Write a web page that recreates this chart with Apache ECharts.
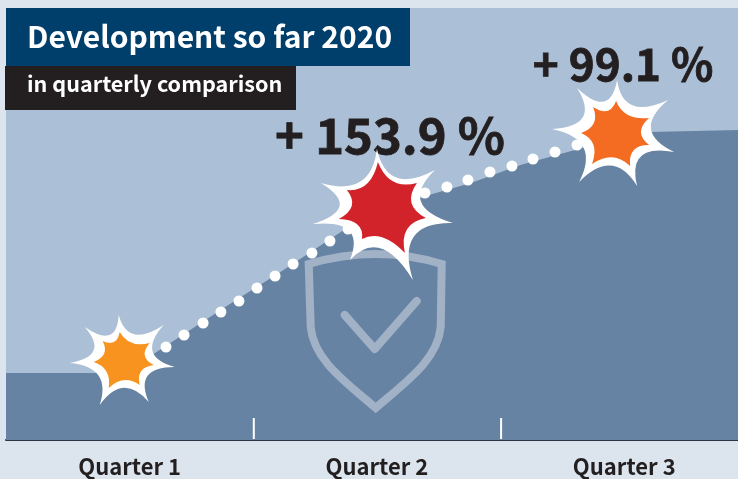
<!DOCTYPE html>
<html>
<head>
<meta charset="utf-8">
<style>html,body{margin:0;padding:0;background:#dce4ee}#chart{width:738px;height:479px}</style>
<script src="https://cdn.jsdelivr.net/npm/echarts@6/dist/echarts.min.js"></script>
</head>
<body>
<div id="chart"></div>
<script>
// x is in quarters since the start of the year, y is an unlabelled height index
const quarterLabels = ['Quarter 1', 'Quarter 2', 'Quarter 3'];
const quarterTicks = [1, 2];

const areaX = [0, 0.48, 0.59, 0.93, 1.11, 1.36, 1.51, 1.71, 1.88, 2.08, 2.33, 2.46, 2.6, 2.96];
const areaY = [67, 67, 85, 140, 168, 209, 227, 245, 257, 275, 292, 300, 308, 310];

const dotX = [0.647, 0.72, 0.797, 0.869, 0.942, 1.015, 1.088, 1.161, 1.237, 1.31, 1.383, 1.694, 1.783, 1.868, 1.957, 2.046, 2.131, 2.22, 2.309];
const dotY = [93, 105, 117, 128, 139, 152, 164, 176, 187, 199, 211, 247, 253, 260, 268, 274, 281, 288, 295];

const burstX = [0.472, 1.512, 2.463];
const burstY = [80, 230, 307];

const gainLabels = ['+ 153.9 %', '+ 99.1 %'];
const gainX = [1.553, 2.495];
const gainY = [305, 376];

const titleText = 'Development so far 2020';
const subtitleText = 'in quarterly comparison';

const FONT = '"Noto Sans CJK SC", "Noto Sans", sans-serif';
const INK = '#231f20';
const gainFontSize = [49, 44];

// burst outlines, tips only, the concave edges are worked out in burstPath
const burstFill = ['#f7931e', '#d2232a', '#f36c21'];
const burstOuter = [
  [[-4, -45], [41, -35], [52, 7], [26, 42], [-23, 45], [-53, 3], [-38, -33]],
  [[-3, -61], [55, -40], [73, 13], [33, 70], [-30, 50], [-67, 14], [-59, -27]],
  [[2, -53], [53, -33], [59, 19], [22, 53], [-36, 49], [-63, -4], [-38, -45]]
];
const burstInner = [
  [[-3, -28], [27, -17], [31, 5], [17, 25], [-14, 28], [-29, 2], [-20, -19]],
  [[-2, -48], [37, -27], [46, 8], [25, 43], [-18, 29], [-41, 9], [-33, -20]],
  [[1, -32], [34, -15], [34, 12], [15, 33], [-23, 31], [-34, 0], [-22, -26]]
];

function burstPath(tips, k) {
  let d = 'M' + tips[0][0] + ',' + tips[0][1];
  for (let i = 0; i < tips.length; i++) {
    const a = tips[i], b = tips[(i + 1) % tips.length];
    const mx = (a[0] + b[0]) / 2, my = (a[1] + b[1]) / 2;
    // control point so that the curve passes through the valley k*mid
    const cx = 2 * k * mx - mx, cy = 2 * k * my - my;
    d += 'Q' + cx + ',' + cy + ' ' + b[0] + ',' + b[1];
  }
  return d + 'Z';
}

const chart = echarts.init(document.getElementById('chart'), null, { renderer: 'canvas' });

const option = {
  animation: false,
  backgroundColor: '#dce4ee',
  grid: { show: true, left: 6, right: 0, top: 8, bottom: 39, backgroundColor: '#abc0d6', borderWidth: 0 },
  xAxis: {
    type: 'value', min: 0, max: 2.96, interval: 0.5,
    splitLine: { show: false },
    axisTick: { show: false },
    axisLine: { show: true, onZero: false, lineStyle: { color: '#2c3544', width: 2 } },
    axisLabel: {
      show: true, showMinLabel: false, showMaxLabel: false, margin: 16,
      color: INK, fontFamily: FONT, fontWeight: 'bold', fontSize: 22, hideOverlap: false,
      formatter: function (v) {
        return v % 1 === 0.5 ? quarterLabels[Math.floor(v)] : '';
      }
    }
  },
  yAxis: { type: 'value', min: 0, max: 432, show: false },
  series: [
    {
      type: 'line', z: 2, symbol: 'none', silent: true,
      data: areaX.map((x, i) => [x, areaY[i]]),
      lineStyle: { width: 0 },
      areaStyle: { color: '#6783a3', opacity: 1 }
    },
    {
      // quarter separators
      type: 'custom', z: 3, silent: true,
      data: quarterTicks.map(x => [x, 0]),
      renderItem: function (params, api) {
        const p = api.coord([api.value(0), 0]);
        return { type: 'line', shape: { x1: p[0] + 0.5, y1: p[1] - 1, x2: p[0] + 0.5, y2: p[1] - 22 }, style: { stroke: '#fff', lineWidth: 2 } };
      }
    },
    {
      // shield watermark
      type: 'custom', z: 3, silent: true,
      data: [[1.495, 110]],
      renderItem: function (params, api) {
        const p = api.coord([api.value(0), api.value(1)]);
        const stroke = { fill: 'none', stroke: '#a1b2c6', lineWidth: 8 };
        return {
          type: 'group', x: p[0], y: p[1],
          children: [
            { type: 'path', shape: { pathData: 'M-67,-66Q0,-86 66,-66L65,-3C62,30 30,52 0,78C-30,52 -62,30 -65,-3Z' }, style: Object.assign({ lineJoin: 'miter' }, stroke) },
            { type: 'path', shape: { pathData: 'M-31,-15L-1,19L41,-29' }, style: Object.assign({ lineCap: 'round', lineJoin: 'round' }, stroke) }
          ]
        };
      }
    },
    {
      type: 'scatter', z: 4, silent: true, symbol: 'circle', symbolSize: 11,
      data: dotX.map((x, i) => [x, dotY[i]]),
      itemStyle: { color: '#fff', opacity: 1 }
    },
    {
      type: 'custom', z: 5, silent: true,
      data: gainX.map((x, i) => [x, gainY[i]]),
      renderItem: function (params, api) {
        const p = api.coord([api.value(0), api.value(1)]);
        return {
          type: 'text', x: p[0], y: p[1],
          style: { text: gainLabels[params.dataIndex], fill: INK, font: 'bold ' + gainFontSize[params.dataIndex] + 'px ' + FONT, textAlign: 'center', textVerticalAlign: 'middle', stroke: INK, lineWidth: 0.8 }
        };
      }
    },
    {
      type: 'custom', z: 6, silent: true,
      data: burstX.map((x, i) => [x, burstY[i]]),
      renderItem: function (params, api) {
        const i = params.dataIndex;
        const p = api.coord([api.value(0), api.value(1)]);
        return {
          type: 'group', x: p[0], y: p[1],
          children: [
            { type: 'path', shape: { pathData: burstPath(burstOuter[i], 0.64) }, style: { fill: '#fff' } },
            { type: 'path', shape: { pathData: burstPath(burstInner[i], 0.76) }, style: { fill: burstFill[i] } }
          ]
        };
      }
    }
  ],
  graphic: [
    { type: 'rect', z: 10, left: 6, top: 8, shape: { width: 404, height: 58 }, style: { fill: '#003e6b' } },
    { type: 'rect', z: 10, left: 5, top: 66, shape: { width: 291, height: 44 }, style: { fill: INK } },
    { type: 'text', z: 11, left: 27, top: 22, style: { text: titleText, fill: '#fff', font: 'bold 30px ' + FONT } },
    { type: 'text', z: 11, left: 27, top: 73, style: { text: subtitleText, fill: '#fff', font: 'bold 21.6px ' + FONT } }
  ]
};

chart.setOption(option);
</script>
</body>
</html>
